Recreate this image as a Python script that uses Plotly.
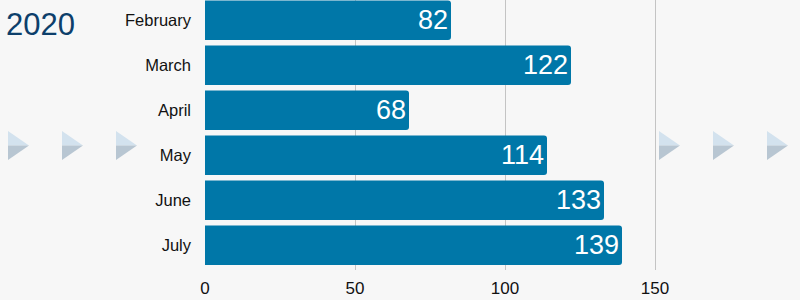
import plotly.graph_objects as go

months = ["February", "March", "April", "May", "June", "July"]
values = [82, 122, 68, 114, 133, 139]
year_label = "2020"
x_ticks = [0, 50, 100, 150]

BAR = "#0077a8"
BG = "#f7f7f7"
FONT = "Liberation Sans, Arial"

fig = go.Figure(go.Bar(
    y=months, x=values, orientation="h",
    marker=dict(color=BAR, line=dict(width=0)),
    text=[str(v) for v in values], textposition="inside",
    insidetextanchor="end",
    textfont=dict(color="white", size=27, family=FONT),
    width=0.88,
    cliponaxis=False,
))

W, H = 800, 300
L, T, B = 205, 0, 30
pw, ph = W - L, H - T - B

def px_to_paper(px, py):
    return (px - L) / pw, (H - B - py) / ph

shapes = []
for cx in [8, 62, 116, 659, 713, 767]:
    x0, ytop = px_to_paper(cx, 131)
    x1, ymid = px_to_paper(cx + 21, 145.5)
    _, ybot = px_to_paper(cx, 160)
    shapes.append(dict(type="path", xref="paper", yref="paper",
                       path=f"M {x0} {ytop} L {x1} {ymid} L {x0} {ymid} Z",
                       fillcolor="#d3e2ee", line=dict(width=0), layer="above"))
    shapes.append(dict(type="path", xref="paper", yref="paper",
                       path=f"M {x0} {ymid} L {x1} {ymid} L {x0} {ybot} Z",
                       fillcolor="#b8c6d2", line=dict(width=0), layer="above"))

fig.update_layout(
    width=W, height=H,
    margin=dict(l=L, r=0, t=T, b=B, pad=0),
    paper_bgcolor=BG, plot_bgcolor=BG,
    barcornerradius=3,
    showlegend=False,
    font=dict(family=FONT, size=16, color="#111111"),
    xaxis=dict(range=[0, pw / 3.0], tickvals=x_ticks, showgrid=True,
               gridcolor="#c4c4c4", gridwidth=1, zeroline=False,
               tickfont=dict(size=17, color="#111111"), showline=False,
               ticks="", ticklabelstandoff=6, fixedrange=True),
    yaxis=dict(categoryorder="array", categoryarray=months,
               range=[5.55, -0.45], showgrid=False, zeroline=False,
               tickfont=dict(size=16.5, color="#111111"), ticks="",
               ticklabelstandoff=13, fixedrange=True),
    shapes=shapes,
    annotations=[dict(text=year_label, xref="paper", yref="paper",
                      x=px_to_paper(4, 0)[0], y=px_to_paper(0, 24)[1],
                      xanchor="left", yanchor="middle", showarrow=False,
                      font=dict(size=31, color="#0d3f6b", family=FONT))],
)

fig.write_html("out.html")
